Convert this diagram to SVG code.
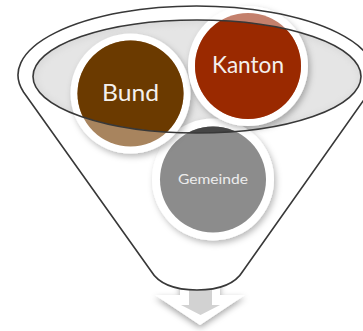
<svg xmlns="http://www.w3.org/2000/svg" width="363" height="331" viewBox="0 0 363 331">
  <defs>
    <style>
      .outline { fill: none; stroke: #383838; stroke-width: 1.6; }
      .ring { fill: #ffffff; filter: url(#shadow); }
      .label { font-family: Lato, "Noto Sans", "DejaVu Sans", sans-serif; text-anchor: middle; fill: #f4f0ec; }
    </style>
    <filter id="shadow" x="-30%" y="-30%" width="160%" height="160%">
      <feDropShadow dx="2" dy="3" stdDeviation="3" flood-color="#000" flood-opacity="0.28"/>
    </filter>
    <filter id="arrowShadow" x="-30%" y="-30%" width="160%" height="160%">
      <feDropShadow dx="0" dy="3" stdDeviation="3" flood-color="#000" flood-opacity="0.35"/>
    </filter>
    <filter id="innerBlur" x="-10%" y="-10%" width="120%" height="120%">
      <feGaussianBlur stdDeviation="3"/>
    </filter>
    <clipPath id="innerClip">
      <ellipse cx="197" cy="76.5" rx="164" ry="56.5"/>
    </clipPath>
  </defs>

  <g id="connectors">
    <g id="arrow">
      <path d="M180,273 H220 V295 H245 L200,325 L155,295 H180 Z" fill="#ffffff" filter="url(#arrowShadow)"/>
      <path d="M189,283 H212 V305 H220 L200.5,315 L181,305 H189 Z" fill="#d2d2d2"/>
    </g>
  </g>

  <g id="funnel">
    <path d="M23.5,92 L151,271 C157,281 170,290 197,290 C224,290 237,281 243,271 L369.5,92 A178.5 69 0 1 0 23.5,92 Z" fill="#ffffff"/>
    <ellipse cx="197" cy="76.5" rx="164" ry="56.5" fill="#dadada"/>
    <ellipse cx="198" cy="77.5" rx="161" ry="53" fill="#e5e5e5" filter="url(#innerBlur)" clip-path="url(#innerClip)"/>
  </g>

  <g id="node-gemeinde">
    <circle class="ring" cx="213" cy="179.5" r="61"/>
    <circle cx="213" cy="179.5" r="53" fill="#8c8c8c"/>
    <circle cx="213" cy="179.5" r="53" fill="#454545" clip-path="url(#innerClip)"/>
    <text class="label" x="213" y="184" font-size="14" textLength="70" lengthAdjust="spacingAndGlyphs" style="fill:#ececec">Gemeinde</text>
  </g>

  <g id="node-bund">
    <circle class="ring" cx="130.5" cy="93.5" r="60"/>
    <circle cx="130.5" cy="93.5" r="53" fill="#a8845e"/>
    <circle cx="130.5" cy="93.5" r="53" fill="#6b3a00" clip-path="url(#innerClip)"/>
    <text class="label" x="130.5" y="101" font-size="23" textLength="57" lengthAdjust="spacingAndGlyphs">Bund</text>
  </g>

  <g id="node-kanton">
    <circle class="ring" cx="248" cy="66" r="60"/>
    <circle cx="248" cy="66" r="53" fill="#c4806c"/>
    <circle cx="248" cy="66" r="53" fill="#9a2900" clip-path="url(#innerClip)"/>
    <text class="label" x="248" y="73.3" font-size="23" textLength="72" lengthAdjust="spacingAndGlyphs">Kanton</text>
  </g>

  <g id="outlines">
    <path class="outline" d="M23.5,92 L151,271 C157,281 170,290 197,290 C224,290 237,281 243,271 L369.5,92 A178.5 69 0 1 0 23.5,92 Z"/>
    <ellipse class="outline" cx="197" cy="76.5" rx="164" ry="56.5"/>
  </g>
</svg>
